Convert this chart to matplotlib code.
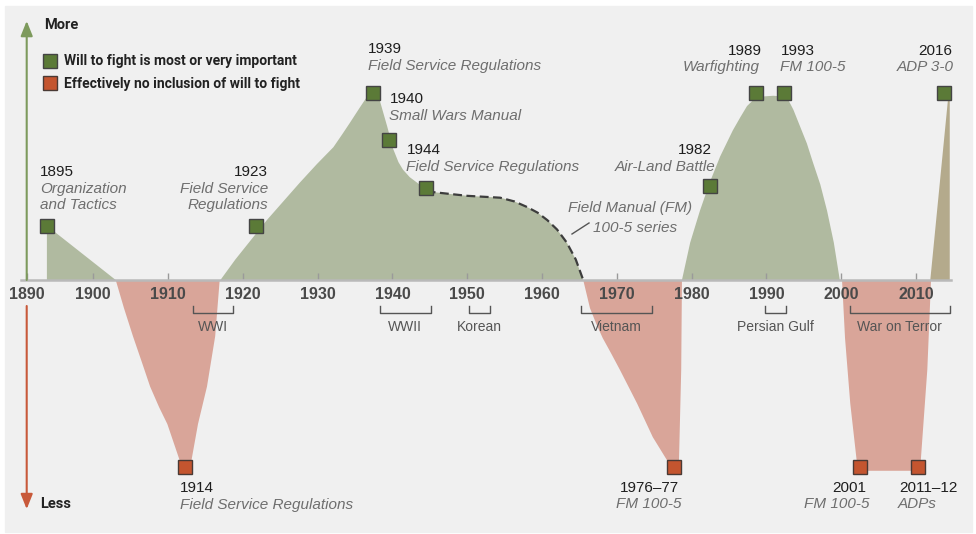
import matplotlib.pyplot as plt
from matplotlib.lines import Line2D
from matplotlib.patches import Rectangle

W, H = 976, 534

# doctrine documents where will to fight is most / very important
hi_names = ['1895', '1923', '1939', '1940', '1944', '1982', '1989', '1993', '2016']
hi_x = [1893.8, 1921.7, 1937.4, 1939.5, 1944.5, 1982.4, 1988.6, 1992.3, 2013.7]
hi_val = [0.29, 0.29, 1.0, 0.75, 0.49, 0.5, 1.0, 1.0, 1.0]

# documents with effectively no inclusion of will to fight
lo_names = ['1914', '1976-77', '2001', '2011-12']
lo_x = [1912.3, 1977.6, 2002.5, 2010.3]
lo_val = [-1.0, -1.0, -1.0, -1.0]

# outlines of the shaded areas (year, level)
a_x = [1893.8, 1893.8, 1903.0]
a_y = [0, 0.29, 0]
b_x = [1903.0, 1904.1, 1905.3, 1906.5, 1907.6, 1908.8, 1909.9, 1911.6, 1913.1, 1914.0, 1915.2, 1916.3, 1916.9]
b_y = [0, -0.15, -0.30, -0.44, -0.57, -0.68, -0.77, -0.97, -0.97, -0.77, -0.57, -0.30, 0]
c_x = [1917.0, 1919.0, 1921.0, 1923.2, 1925.4, 1927.6, 1929.9, 1932.1, 1933.3, 1934.3, 1935.6, 1936.6, 1937.4,
       1938.3, 1939.3, 1940.1, 1940.8, 1941.4, 1942.3, 1943.3, 1944.6]
c_y = [0, 0.11, 0.21, 0.32, 0.42, 0.52, 0.62, 0.71, 0.78, 0.84, 0.92, 0.98, 1.0,
       0.96, 0.82, 0.70, 0.63, 0.59, 0.55, 0.52, 0.48]
# FM 100-5 series (dashed part)
fm_x = [1944.6, 1945.4, 1947.7, 1950.0, 1952.2, 1954.4, 1956.3, 1958.0, 1959.4, 1960.7, 1962.0, 1963.3, 1964.5, 1965.5]
fm_y = [0.48, 0.47, 0.46, 0.45, 0.445, 0.44, 0.42, 0.39, 0.36, 0.32, 0.27, 0.20, 0.11, 0]
d_x = [1965.5, 1966.4, 1967.2, 1968.1, 1969.2, 1970.4, 1972.7, 1974.8, 1976.8, 1978.3, 1978.6, 1978.7]
d_y = [0, -0.15, -0.23, -0.31, -0.39, -0.48, -0.66, -0.84, -0.97, -0.97, -0.48, 0]
e_x = [1978.7, 1979.8, 1981.1, 1982.4, 1983.8, 1985.5, 1986.5, 1987.4, 1988.3, 1989.1, 1990.9, 1992.7,
       1993.6, 1994.5, 1995.4, 1996.2, 1997.2, 1998.1, 1999.0, 1999.8]
e_y = [0, 0.20, 0.37, 0.52, 0.66, 0.80, 0.87, 0.93, 0.965, 0.98, 0.985, 0.98,
       0.91, 0.82, 0.73, 0.63, 0.51, 0.37, 0.20, 0]
f_x = [2000.1, 2000.5, 2001.2, 2002.1, 2002.2, 2010.5, 2010.6, 2011.5, 2012.0]
f_y = [0, -0.31, -0.66, -0.98, -1.02, -1.02, -0.98, -0.48, 0]
g_x = [2011.9, 2014.3, 2014.5, 2014.5]
g_y = [0, 0.98, 0.99, 0]

# wars shown under the axis
wars = ['WWI', 'WWII', 'Korean', 'Vietnam', 'Persian Gulf', 'War on Terror']
war_start = [1913.3, 1938.3, 1950.2, 1965.2, 1989.8, 2001.1]
war_end = [1918.7, 1945.1, 1953.0, 1974.7, 1992.6, 2014.5]

tick_labels = ['1890', '1900', '1910', '1920', '1930', '1940', '1950', '1960', '1970', '1980', '1990', '2000', '2010']
tick_pos = [1891.1, 1900, 1910, 1920, 1930, 1940, 1950, 1960, 1970, 1980, 1990, 2000, 2010]

plt.rcParams['font.family'] = ['Liberation Sans', 'DejaVu Sans']
condensed = ['Roboto', 'DejaVu Sans']

GREEN_FILL = '#b0baa0'
RED_FILL = '#d9a599'
TAN_FILL = '#b4aa8c'
GREEN_MK = '#5b7a37'
RED_MK = '#c4552f'

fig = plt.figure(figsize=(W / 100, H / 100), dpi=100)
fig.patches.append(Rectangle((5 / W, 2 / H), 967 / W, 526 / H, transform=fig.transFigure,
                             color='#f0f0f0', zorder=-5))
ax = fig.add_axes([0, 0, 1, 1])
ax.patch.set_alpha(0)
ax.set_xlim(1887.53, 2018.01)
ax.set_ylim(-1.358, 1.497)

for xs, ys, col in [(a_x, a_y, GREEN_FILL), (b_x, b_y, RED_FILL), (c_x + fm_x, c_y + fm_y, GREEN_FILL),
                    (d_x, d_y, RED_FILL), (e_x, e_y, GREEN_FILL), (f_x, f_y, RED_FILL),
                    (g_x, g_y, TAN_FILL)]:
    ax.fill(xs, ys, color=col, lw=0, zorder=1)
ax.plot(fm_x, fm_y, color='#3d3d3d', lw=1.6, ls=(0, (4, 2)), zorder=3)

ax.plot(hi_x, hi_val, 's', ms=9.5, mfc=GREEN_MK, mec='#444444', mew=1, zorder=5)
ax.plot(lo_x, lo_val, 's', ms=9.5, mfc=RED_MK, mec='#4a3a35', mew=1, zorder=5)

# axis
for s in ['left', 'right', 'top']:
    ax.spines[s].set_visible(False)
ax.spines['bottom'].set_position(('data', 0))
ax.spines['bottom'].set_bounds(1890.4, 2014.7)
ax.spines['bottom'].set_color('#b9b9b9')
ax.spines['bottom'].set_linewidth(1.8)
ax.set_xticks(tick_pos, tick_labels)
ax.set_yticks([])
ax.tick_params(axis='x', direction='in', length=5, width=1, color='#9a9a9a', pad=5,
               labelsize=11.5, labelcolor='#4a4a4a')
for lab in ax.get_xticklabels():
    lab.set_fontweight('bold')

# war brackets
for name, s, e in zip(wars, war_start, war_end):
    ax.plot([s, s, e, e], [-0.139, -0.176, -0.176, -0.139], color='#555555', lw=1, zorder=3)
    ax.text((s + e) / 2, -0.251, name, ha='center', va='center', fontsize=10, color='#555555')

# more / less arrows
ax.annotate('', xy=(1891.1, 1.385), xytext=(1891.1, 0.0),
            arrowprops=dict(arrowstyle='-|>,head_length=0.9,head_width=0.36', color='#7d9a5c',
                            lw=1.5, shrinkA=0, shrinkB=0))
ax.annotate('', xy=(1891.1, -1.225), xytext=(1891.1, -0.139),
            arrowprops=dict(arrowstyle='-|>,head_length=0.9,head_width=0.36', color='#c8593a',
                            lw=1.5, shrinkA=0, shrinkB=0))


def ptext(x, y, s, ha='left', kind='year', **kw):
    if kind == 'year':
        style = dict(fontsize=11, color='#1e1e1e')
    else:
        style = dict(fontsize=11, color='#6e6e6e', fontstyle='italic')
    style.update(kw)
    fig.text(x / W, 1 - y / H, s, ha=ha, va='center', **style)


ptext(44, 25, 'More', family=condensed, fontweight='bold', fontsize=10.5, color='#222222')
ptext(40, 504, 'Less', family=condensed, fontweight='bold', fontsize=10.5, color='#222222')

leg = ax.legend(handles=[Line2D([], [], ls='', marker='s', ms=9.5, mfc=GREEN_MK, mec='#444444'),
                         Line2D([], [], ls='', marker='s', ms=9.5, mfc=RED_MK, mec='#4a3a35')],
                labels=['Will to fight is most or very important', 'Effectively no inclusion of will to fight'],
                loc='upper left', bbox_to_anchor=(42.7 / W, 1 - 54.5 / H), bbox_transform=fig.transFigure,
                frameon=False, handlelength=1.0, handletextpad=0.5, labelspacing=0.6,
                borderpad=0, borderaxespad=0, prop=dict(family=condensed, weight='bold', size=10))
for t in leg.get_texts():
    t.set_color('#222222')

labels = [
    (40, 172, '1895', 'left', 'year'), (40, 189, 'Organization', 'left', 'it'),
    (40, 205, 'and Tactics', 'left', 'it'),
    (268, 172, '1923', 'right', 'year'), (268, 189, 'Field Service', 'right', 'it'),
    (268, 205, 'Regulations', 'right', 'it'),
    (368, 49, '1939', 'left', 'year'), (368, 66, 'Field Service Regulations', 'left', 'it'),
    (390, 99, '1940', 'left', 'year'), (389, 116, 'Small Wars Manual', 'left', 'it'),
    (407, 150, '1944', 'left', 'year'), (406, 167, 'Field Service Regulations', 'left', 'it'),
    (712, 150, '1982', 'right', 'year'), (716, 167, 'Air-Land Battle', 'right', 'it'),
    (568, 208, 'Field Manual (FM)', 'left', 'it'), (593, 228, '100-5 series', 'left', 'it'),
    (762, 51, '1989', 'right', 'year'), (760, 67, 'Warfighting', 'right', 'it'),
    (781, 51, '1993', 'left', 'year'), (780, 67, 'FM 100-5', 'left', 'it'),
    (952, 51, '2016', 'right', 'year'), (954, 67, 'ADP 3-0', 'right', 'it'),
    (180, 488, '1914', 'left', 'year'), (180, 505, 'Field Service Regulations', 'left', 'it'),
    (649, 488, '1976\u201377', 'center', 'year'), (649, 504, 'FM 100-5', 'center', 'it'),
    (866, 488, '2001', 'right', 'year'), (869, 504, 'FM 100-5', 'right', 'it'),
    (899, 488, '2011\u201312', 'left', 'year'), (898, 504, 'ADPs', 'left', 'it'),
]
for x, y, s, ha, kind in labels:
    ptext(x, y, s, ha=ha, kind=kind)

fig.add_artist(Line2D([572 / W, 589 / W], [1 - 234 / H, 1 - 223 / H], color='#555555', lw=1))

fig.savefig('out.png', dpi=100, facecolor='white')
